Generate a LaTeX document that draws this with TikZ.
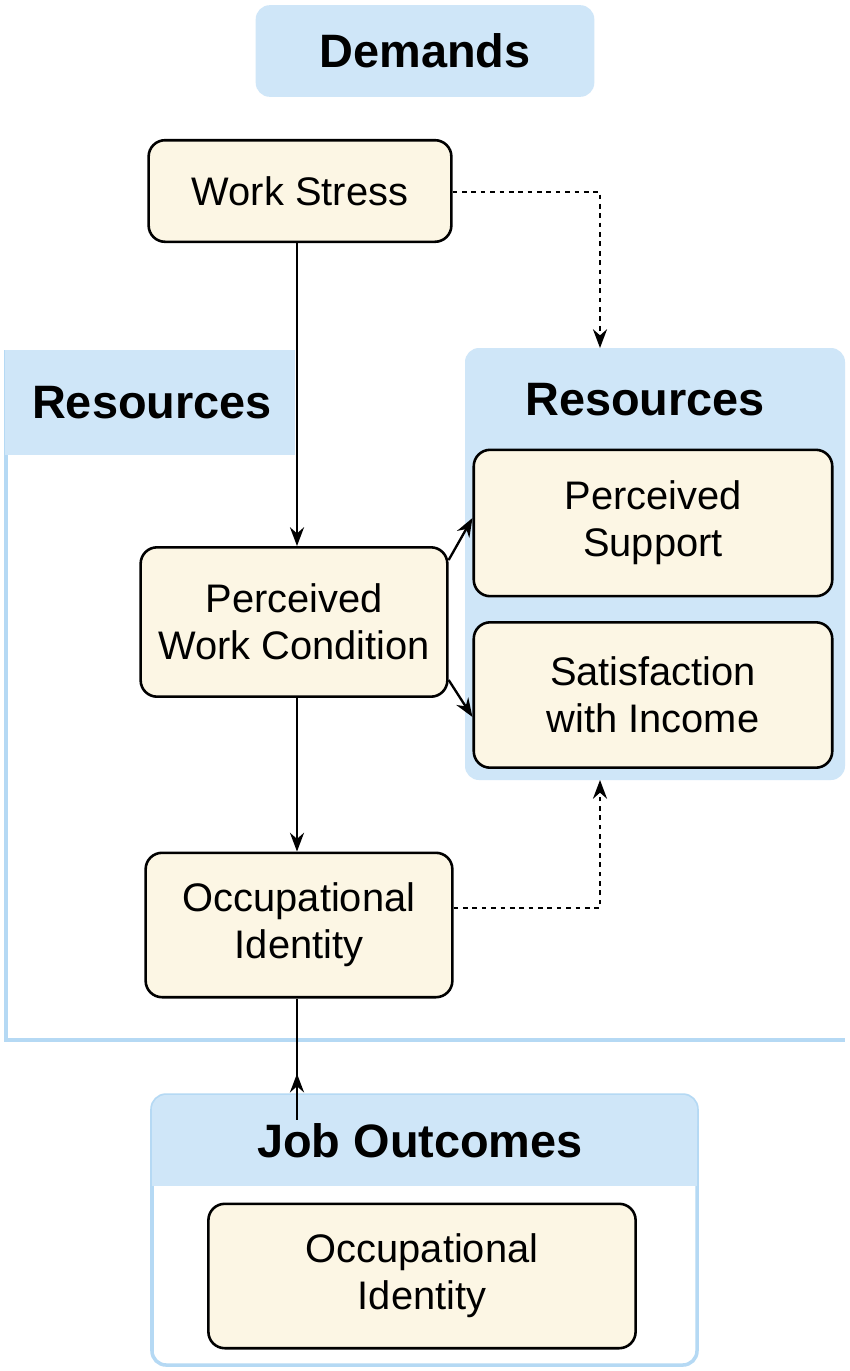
\documentclass[tikz,border=0pt]{standalone}
\usepackage{fontspec}
\setmainfont{Liberation Sans}
\usetikzlibrary{arrows.meta}
\definecolor{lblue}{HTML}{CFE6F8}
\definecolor{bblue}{HTML}{B5D9F4}
\definecolor{cream}{HTML}{FCF6E4}
\tikzset{
 box/.style={draw=black,line width=2.2pt,fill=cream,rounded corners=14pt,align=center,font=\fontsize{34}{40}\selectfont},
 head/.style={font=\bfseries\fontsize{40}{46}\selectfont},
 arr/.style={line width=2pt,-{Stealth[length=16pt,width=12pt]}},
 dot/.style={line width=2pt,dash pattern=on 4pt off 4pt,-{Stealth[length=16pt,width=12pt]}}
}
\begin{document}
\begin{tikzpicture}[x=0.03cm,y=-0.03cm]
\useasboundingbox (0,0) rectangle (850,1371);
\fill[white] (0,0) rectangle (850,1371);
% demands
\node[fill=lblue,rounded corners=12pt,minimum width=340*0.85pt,minimum height=92*0.85pt,head] (dem) at (425,51) {Demands};
% left panel
\draw[bblue,line width=3pt] (6,350) -- (6,1040) -- (845,1040);
\fill[lblue] (5,350) rectangle (295,455);
\node[head,anchor=west] (lres) at (28,403) {Resources};
% right panel
\fill[lblue,rounded corners=12pt] (465,348) rectangle (845,780);
\node[head] (rres) at (645,400) {Resources};
% job outcomes panel
\draw[bblue,line width=3pt,fill=white,rounded corners=12pt] (152,1095) rectangle (697,1365);
\fill[lblue,rounded corners=12pt] (152,1095) rectangle (697,1140);
\fill[lblue] (152,1120) rectangle (697,1186);
\node[head] (jo) at (420,1141) {Job Outcomes};
% boxes
\node[box,minimum width=304*0.85pt,minimum height=102*0.85pt] (ws) at (300,191) {Work Stress};
\node[box,minimum width=308*0.85pt,minimum height=150*0.85pt] (pwc) at (294,622) {Perceived\\Work Condition};
\node[box,minimum width=360*0.85pt,minimum height=147*0.85pt] (ps) at (653,523) {Perceived\\Support};
\node[box,minimum width=360*0.85pt,minimum height=146*0.85pt] (si) at (653,695) {Satisfaction\\with Income};
\node[box,minimum width=308*0.85pt,minimum height=145*0.85pt] (oi) at (299,925) {Occupational\\Identity};
\node[box,minimum width=429*0.85pt,minimum height=145*0.85pt] (oi2) at (422,1276) {Occupational\\Identity};
% arrows
\coordinate (wsb) at (297,242);
\draw[arr] (ws.south -| wsb) -- (pwc.north -| wsb);
\draw[arr] (pwc.south -| wsb) -- (oi.north -| wsb);
\draw[arr] (oi.south -| wsb) -- (jo.north -| wsb) ++(0,-46) coordinate (jtop);
\draw[arr] (pwc.east |- 0,560) -- (ps.west |- 0,518);
\draw[arr] (pwc.east |- 0,680) -- (si.west |- 0,717);
\coordinate (c1) at (600,192);
\coordinate (c2) at (600,908);
\draw[dot] (ws.east |- c1) -- (c1) -- (600,348);
\draw[dot] (oi.east |- c2) -- (c2) -- (600,780);
\end{tikzpicture}
\end{document}
